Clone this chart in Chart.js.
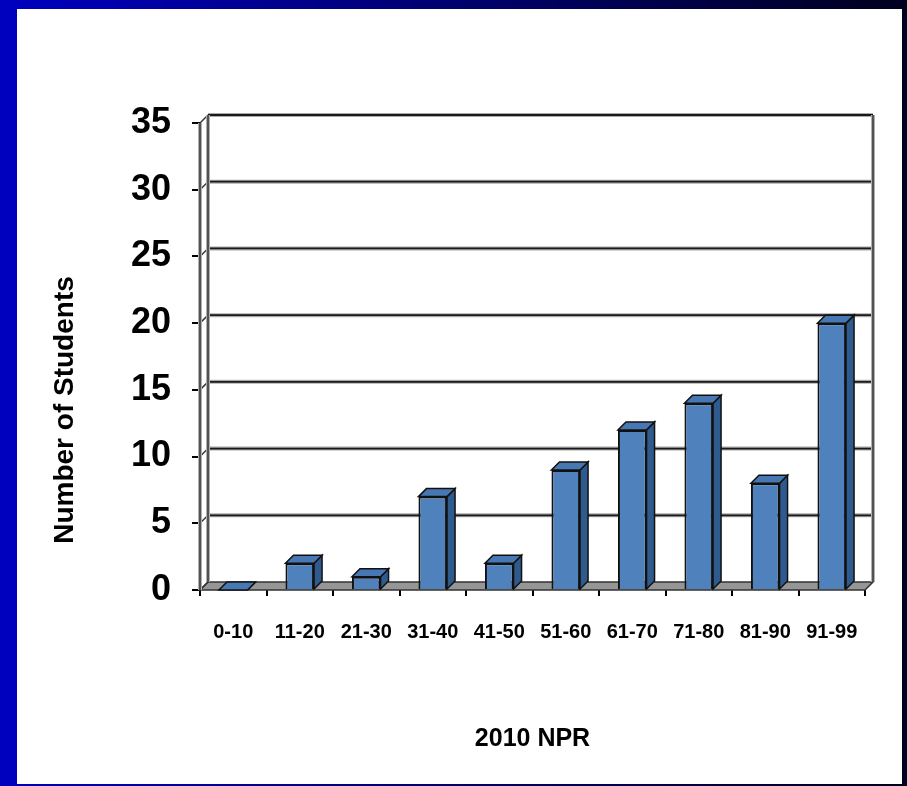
<!DOCTYPE html>
<html><head><meta charset="utf-8">
<script src="https://cdn.jsdelivr.net/npm/chart.js@4.4.1/dist/chart.umd.min.js"></script>
<style>html,body{margin:0;padding:0;background:#fff;}#wrap{width:907px;height:786px;position:relative;}</style>
</head><body><div id="wrap"><canvas id="c"></canvas></div>
<script>
const categories = ['0-10','11-20','21-30','31-40','41-50','51-60','61-70','71-80','81-90','91-99'];
const studentCounts = [0, 2, 1, 7, 2, 9, 12, 14, 8, 20];
const yAxisTitle = 'Number of Students';
const xAxisTitle = '2010 NPR';
const yMin = 0, yMax = 35, yStep = 5;

const DEPTH = 8;
const FONT = "'Liberation Sans', Arial, Helvetica, sans-serif";

function poly(ctx, pts, fill, stroke, lw) {
  ctx.beginPath();
  ctx.moveTo(pts[0][0], pts[0][1]);
  for (let i = 1; i < pts.length; i++) ctx.lineTo(pts[i][0], pts[i][1]);
  ctx.closePath();
  if (fill) { ctx.fillStyle = fill; ctx.fill(); }
  if (stroke) { ctx.strokeStyle = stroke; ctx.lineWidth = lw || 1.5; ctx.stroke(); }
}
function seg(ctx, x1, y1, x2, y2) {
  ctx.beginPath(); ctx.moveTo(x1, y1); ctx.lineTo(x2, y2); ctx.stroke();
}

const framePlugin = {
  id: 'frame',
  beforeDraw(chart) {
    const ctx = chart.ctx, W = chart.width, H = chart.height;
    ctx.save();
    const g = ctx.createLinearGradient(0, 0, W, 0);
    g.addColorStop(0, '#0000C0');
    g.addColorStop(1, '#00001E');
    ctx.fillStyle = g;
    ctx.fillRect(0, 0, W, H);
    ctx.fillStyle = '#ffffff';
    ctx.fillRect(17, 9, 885, 775);
    ctx.restore();
  }
};

const wallPlugin = {
  id: 'walls',
  beforeDatasetsDraw(chart) {
    const ctx = chart.ctx;
    const {left, right, top, bottom} = chart.chartArea;
    const y = chart.scales.y;
    const d = DEPTH;
    ctx.save();
    // floor
    poly(ctx, [[left, bottom], [right, bottom], [right + d, bottom - d], [left + d, bottom - d]], '#969696', '#333', 1.5);
    // gridlines on back wall + left wall connectors
    y.ticks.forEach(t => {
      const py = y.getPixelForValue(t.value);
      if (t.value !== yMin) {
        ctx.strokeStyle = '#aaaaaa'; ctx.lineWidth = 4;
        seg(ctx, left + d, py - d, right + d, py - d);
        ctx.strokeStyle = '#1a1a1a'; ctx.lineWidth = 1.8;
        seg(ctx, left + d, py - d, right + d, py - d);
      }
      ctx.strokeStyle = '#333'; ctx.lineWidth = 1.5;
      seg(ctx, left, py, left + d, py - d);
    });
    // left wall verticals
    ctx.strokeStyle = '#b0b0b0'; ctx.lineWidth = 4;
    seg(ctx, left, top, left, bottom);
    seg(ctx, left + d, top - d, left + d, bottom - d);
    seg(ctx, right + d, top - d, right + d, bottom - d);
    ctx.strokeStyle = '#333'; ctx.lineWidth = 1.5;
    seg(ctx, left, top, left, bottom);
    seg(ctx, left + d, top - d, left + d, bottom - d);
    seg(ctx, right + d, top - d, right + d, bottom - d);
    ctx.restore();
  },
  afterDatasetsDraw(chart) {
    const ctx = chart.ctx;
    const d = DEPTH;
    ctx.save();
    chart.getDatasetMeta(0).data.forEach(el => {
      const p = el.getProps(['x', 'y', 'base', 'width'], true);
      const l = p.x - p.width / 2, r = p.x + p.width / 2, t = p.y, b = p.base;
      poly(ctx, [[r, t], [r + d, t - d], [r + d, b - d], [r, b]], '#2F5A8E', '#111', 1.5);
      poly(ctx, [[l, t], [r, t], [r + d, t - d], [l + d, t - d]], '#4778B3', '#111', 1.5);
    });
    ctx.restore();
  },
  afterDraw(chart) {
    const ctx = chart.ctx;
    ctx.save();
    ctx.translate(65, 410);
    ctx.rotate(-Math.PI / 2);
    ctx.fillStyle = '#000';
    ctx.font = "bold 28px " + FONT;
    ctx.textAlign = 'center';
    ctx.textBaseline = 'middle';
    ctx.fillText(yAxisTitle, 0, 0);
    ctx.restore();
  }
};

new Chart(document.getElementById('c'), {
  type: 'bar',
  data: {
    labels: categories,
    datasets: [{
      label: yAxisTitle,
      data: studentCounts,
      backgroundColor: '#4F81BD',
      borderColor: '#111',
      borderWidth: 2,
      categoryPercentage: 1,
      barPercentage: 0.43
    }]
  },
  options: {
    responsive: true,
    maintainAspectRatio: false,
    animation: false,
    layout: { padding: { top: 123, right: 42, bottom: 0, left: 0 } },
    plugins: { legend: { display: false }, tooltip: { enabled: false } },
    scales: {
      x: {
        ticks: { color: '#000', font: { family: FONT, size: 20, weight: 'bold' }, padding: 24, maxRotation: 0, autoSkip: false },
        grid: { drawOnChartArea: false, drawTicks: true, tickLength: 6, color: '#000', lineWidth: 2, offset: true },
        border: { display: false },
        title: { display: true, text: xAxisTitle, color: '#000', font: { family: FONT, size: 25, weight: 'bold' }, padding: { top: 0, bottom: 32 } },
        afterFit(s) { s.height = 196; }
      },
      y: {
        min: yMin, max: yMax,
        ticks: { stepSize: yStep, color: '#000', font: { family: FONT, size: 36, weight: 'bold' }, padding: 21 },
        grid: { drawOnChartArea: false, drawTicks: true, tickLength: 8, color: '#000', lineWidth: 2 },
        border: { display: false },
        afterFit(s) { s.width = 200; }
      }
    }
  },
  plugins: [framePlugin, wallPlugin]
});
</script>
</body></html>
